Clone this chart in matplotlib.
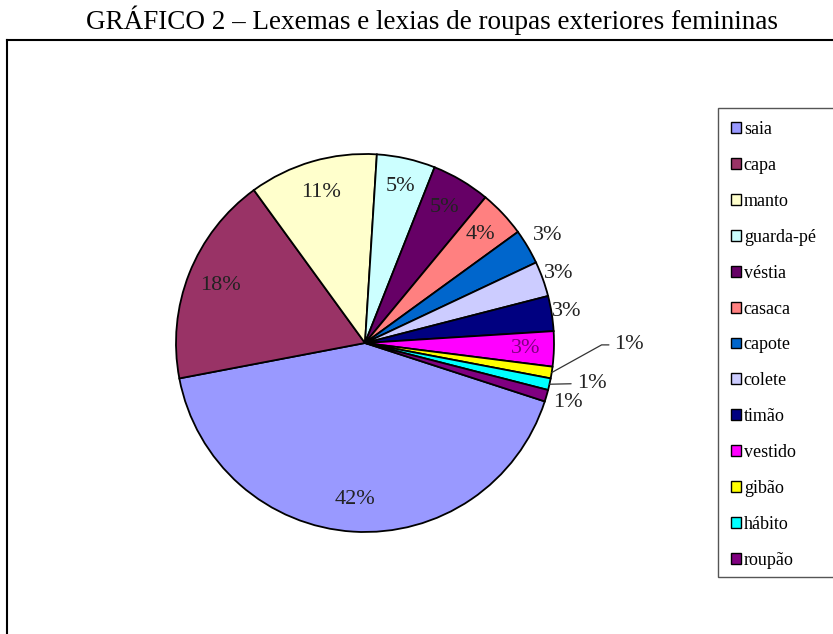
import matplotlib
matplotlib.use("Agg")
import matplotlib.pyplot as plt
from matplotlib.lines import Line2D
from matplotlib.patches import Rectangle
import numpy as np

plt.rcParams['font.family'] = ['Liberation Serif', 'DejaVu Serif']

# Data
categories = ['saia', 'capa', 'manto', 'guarda-pé', 'véstia', 'casaca', 'capote',
              'colete', 'timão', 'vestido', 'gibão', 'hábito', 'roupão']
percents = [42, 18, 11, 5, 5, 4, 3, 3, 3, 3, 1, 1, 1]
colors = ['#9999FF', '#993366', '#FFFFCC', '#CCFFFF', '#660066', '#FF8080', '#0066CC',
          '#CCCCFF', '#000080', '#FF00FF', '#FFFF00', '#00FFFF', '#800080']

# label radius (fraction of pie radius) per slice; None = leader line label
label_r = [0.83, 0.82, 0.83, 0.85, 0.83, 0.84, 1.12, 1.09, 1.08, 0.85, None, None, 1.12]
label_colors = ['#222222'] * len(categories)
label_colors[9] = '#800080'

W, H = 833, 634
fig = plt.figure(figsize=(W / 100, H / 100), dpi=100)

# pie axes: centre (365, 343) px, radius 189 px
cx, cy, R = 365, 343, 189
ax = fig.add_axes([(cx - R) / W, (H - cy - R) / H, 2 * R / W, 2 * R / H])
wedges, _ = ax.pie(percents, colors=colors, startangle=-18, counterclock=False,
                   radius=1, wedgeprops=dict(edgecolor='black', linewidth=1.3))
ax.set_xlim(-1, 1)
ax.set_ylim(-1, 1)
ax.axis('off')

for w, pct, r, c in zip(wedges, percents, label_r, label_colors):
    if r is None:
        continue
    ang = np.deg2rad((w.theta1 + w.theta2) / 2)
    ax.text(r * np.cos(ang), r * np.sin(ang), f'{pct}%', ha='center', va='center',
            fontsize=16, color=c, clip_on=False)

# leader-line labels (gibão, hábito)
w = wedges[10]
ang = np.deg2rad((w.theta1 + w.theta2) / 2)
ax.annotate(f'{percents[10]}%', xy=(np.cos(ang), np.sin(ang)), xytext=(1.32, -0.01),
            ha='left', va='center', fontsize=16, color='#222222',
            arrowprops=dict(arrowstyle='-', color='#333333', lw=0.9, relpos=(0, 0.5),
                            shrinkA=2, shrinkB=0,
                            connectionstyle='angle,angleA=0,angleB=29,rad=0'))
w = wedges[11]
ang = np.deg2rad((w.theta1 + w.theta2) / 2)
ax.annotate(f'{percents[11]}%', xy=(np.cos(ang), np.sin(ang)), xytext=(1.12, -0.215),
            ha='left', va='center', fontsize=16, color='#222222',
            arrowprops=dict(arrowstyle='-', color='#333333', lw=0.9, relpos=(0, 0.5),
                            shrinkA=2, shrinkB=0))

# title and outer frame
fig.text(432 / W, 1 - 29 / H, 'GRÁFICO 2 – Lexemas e lexias de roupas exteriores femininas',
         ha='center', va='baseline', fontsize=19.5)
fig.add_artist(Line2D([7 / W, 1], [1 - 40 / H, 1 - 40 / H], color='black', lw=1.5))
fig.add_artist(Line2D([7 / W, 7 / W], [0, 1 - 40 / H], color='black', lw=1.5))

# legend
fig.add_artist(Rectangle((718 / W, 1 - 577 / H), 130 / W, 469 / H, transform=fig.transFigure,
                         facecolor='white', edgecolor='#555555', lw=1))
handles = [Rectangle((0, 0), 1, 1, facecolor=c, edgecolor='black', lw=1) for c in colors]
fig.legend(handles, categories, loc='upper left', bbox_to_anchor=(724 / W, 1 - 114 / H),
           frameon=False, fontsize=13, handlelength=0.55, handleheight=0.55,
           handletextpad=0.15, labelspacing=1.045, borderaxespad=0)

fig.savefig('out.png', dpi=100)
